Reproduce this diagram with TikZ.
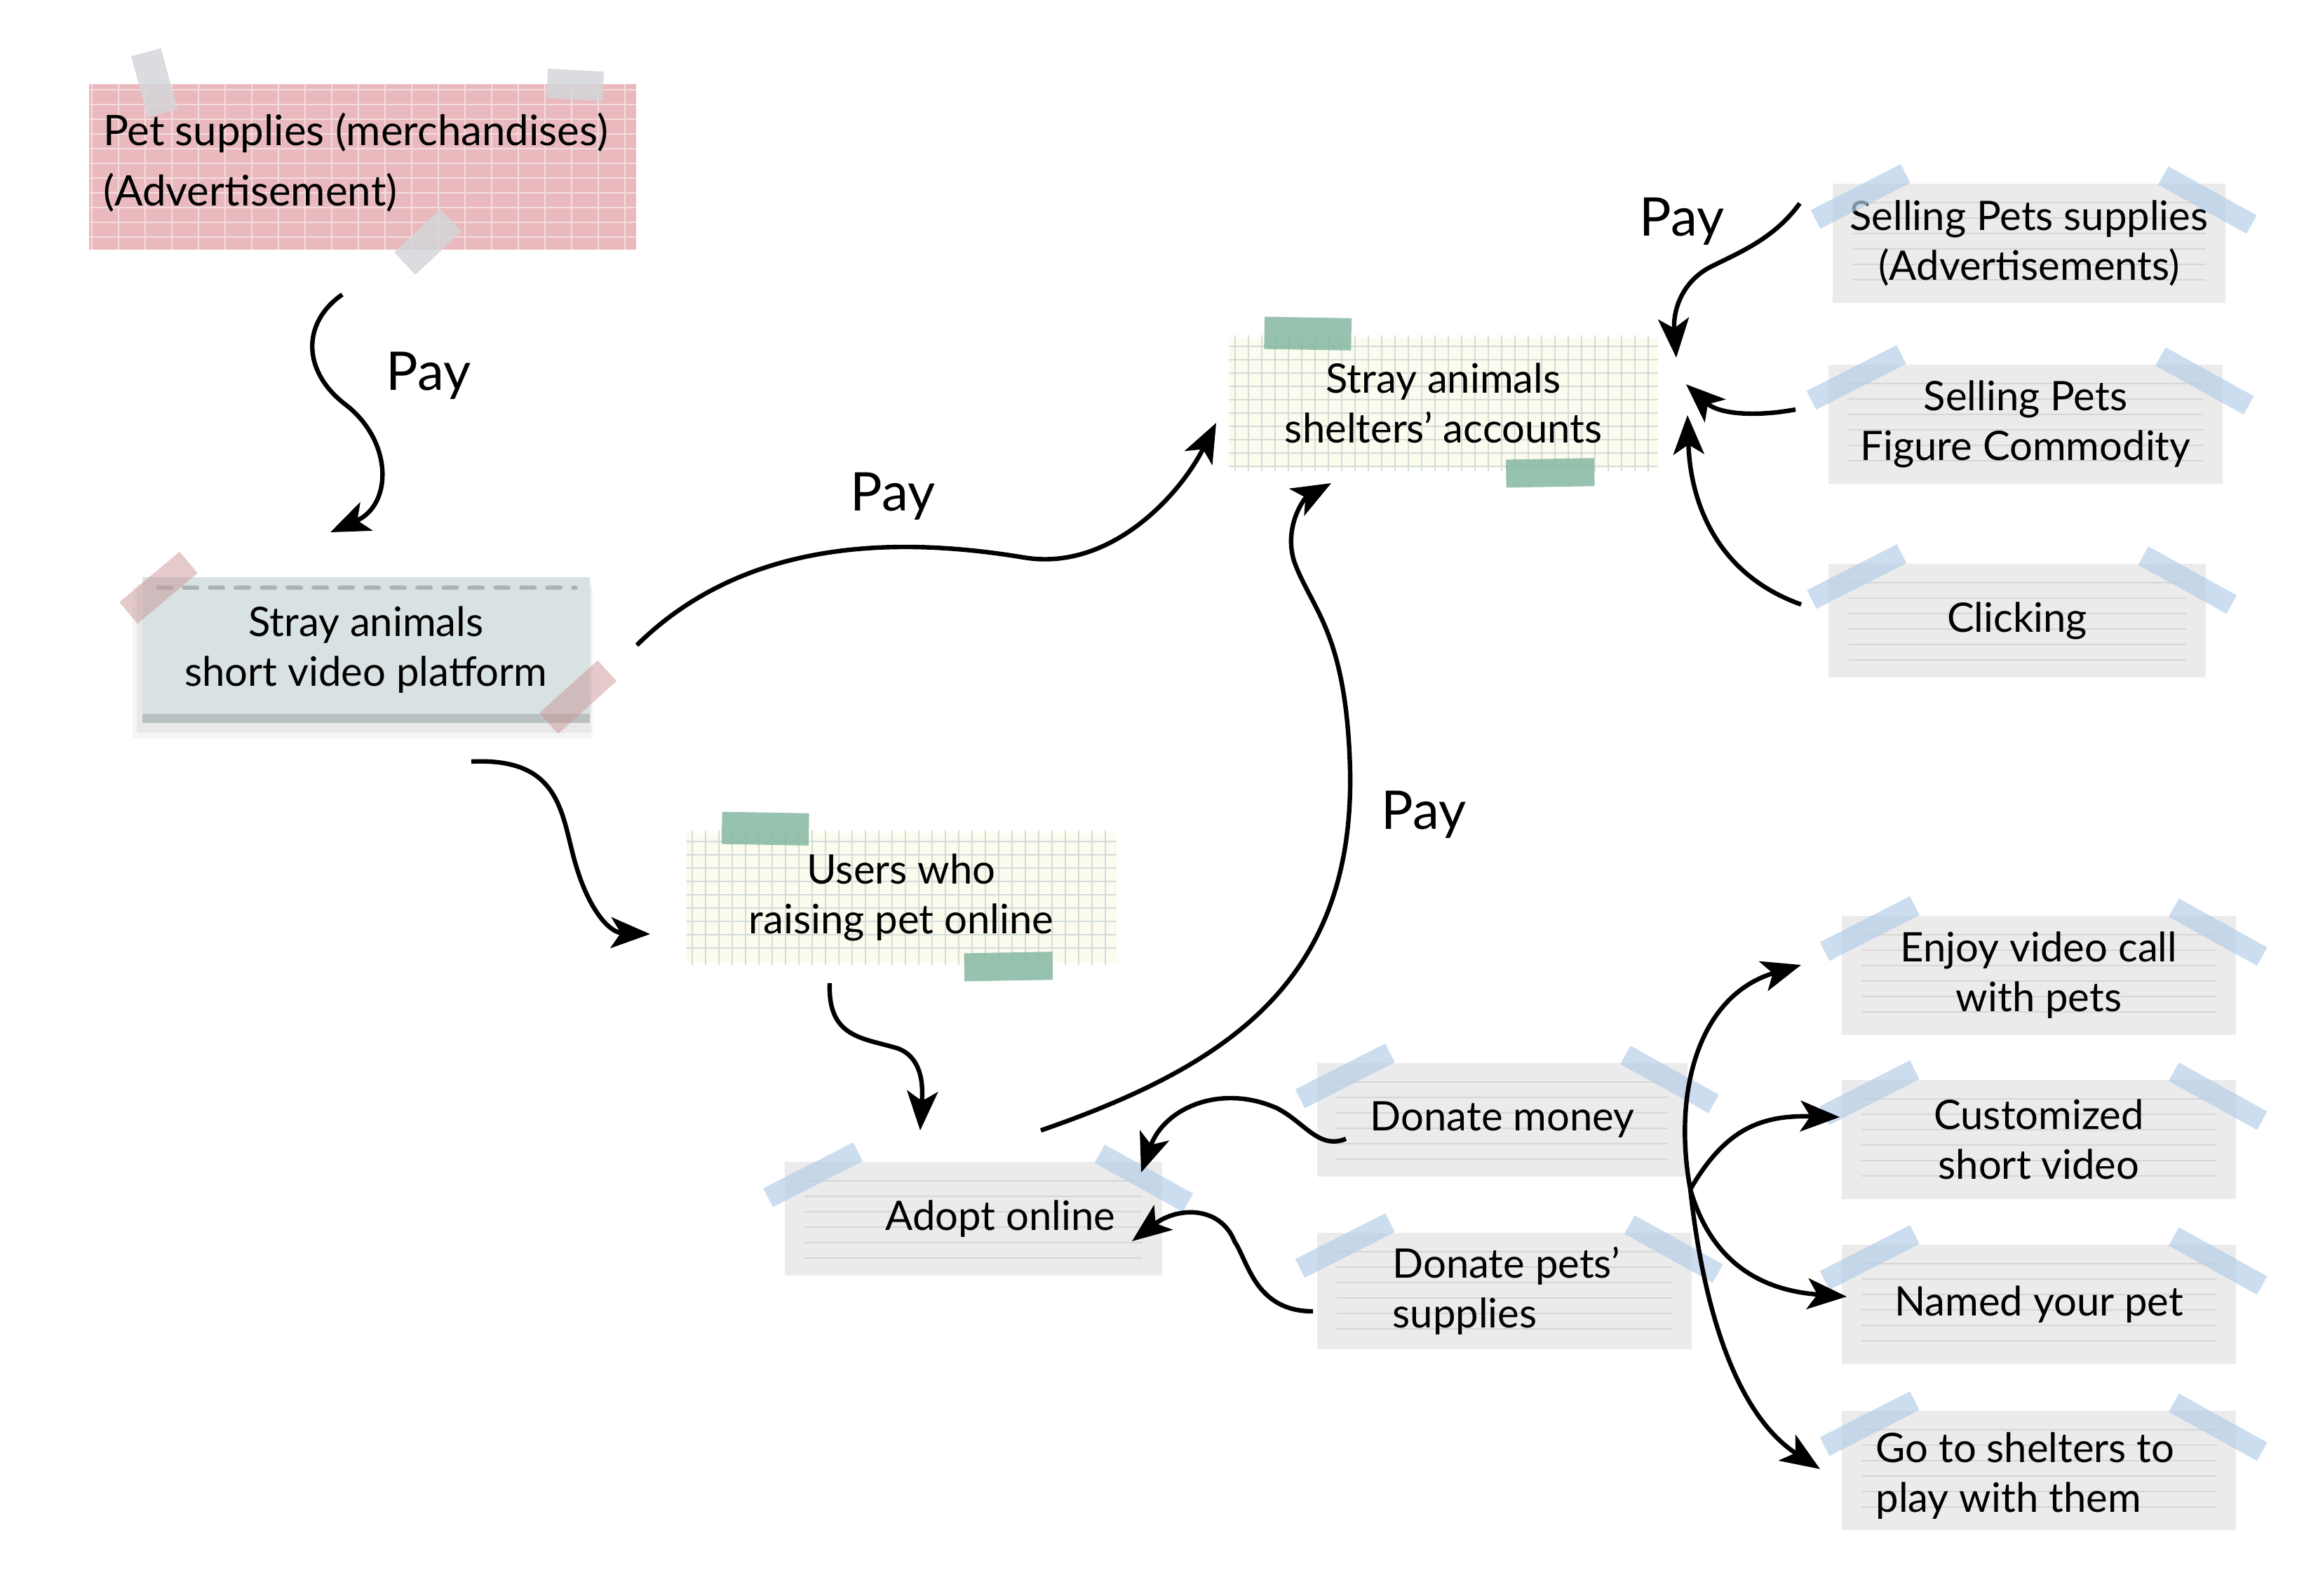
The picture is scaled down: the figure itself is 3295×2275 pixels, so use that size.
\documentclass[tikz,border=0pt]{standalone}
\usepackage{fontspec}
\setmainfont{Lato}
\usetikzlibrary{arrows.meta}
\pgfdeclarelayer{bg}
\pgfsetlayers{bg,main}
\definecolor{pinkfill}{HTML}{E9B9BD}
\definecolor{pinkgrid}{HTML}{F4DCDE}
\definecolor{greytape}{HTML}{D4D6D9}
\definecolor{platfill}{HTML}{D9E2E3}
\definecolor{platband}{HTML}{BBC0C2}
\definecolor{platdash}{HTML}{ADB2B4}
\definecolor{pinktape}{HTML}{C99596}
\definecolor{creamfill}{HTML}{FCFCEE}
\definecolor{creamgrid}{HTML}{D2DCD8}
\definecolor{greentape}{HTML}{8BBBA6}
\definecolor{linedfill}{HTML}{EBEBEB}
\definecolor{linedline}{HTML}{D6D6D6}
\definecolor{bluetape}{HTML}{B5CEE8}

\newcommand\linedeco[1]{%
  \begin{pgfonlayer}{bg}
    \fill[linedfill] (#1.north west) rectangle (#1.south east);
    \foreach \k in {0,...,5}
      \draw[linedline, line width=0.5pt] ([shift={(28,27+22*\k)}]#1.north west) -- ([shift={(-28,27+22*\k)}]#1.north east);
  \end{pgfonlayer}
  \begin{scope}[shift={([shift={(40,18)}]#1.north west)}, rotate=27]
    \fill[bluetape, opacity=.7] (-72,-15) rectangle (72,15);
  \end{scope}
  \begin{scope}[shift={([shift={(-26,23)}]#1.north east)}, rotate=-29]
    \fill[bluetape, opacity=.7] (-72,-15) rectangle (72,15);
  \end{scope}}

\newcommand\creamdeco[3]{%
  \begin{pgfonlayer}{bg}
    \fill[creamfill] (#1.north west) rectangle (#1.south east);
    \foreach \k in {0,...,#2}
      \draw[creamgrid, line width=0.5pt] ([shift={(9+19*\k,-4)}]#1.north west) -- ([shift={(9+19*\k,4)}]#1.south west);
    \foreach \k in {0,...,#3}
      \draw[creamgrid, line width=0.5pt] ([shift={(0,12+19*\k)}]#1.north west) -- ([shift={(0,12+19*\k)}]#1.north east);
  \end{pgfonlayer}
  \begin{scope}[shift={([shift={(113,-6)}]#1.north west)}, rotate=-1]
    \fill[greentape, opacity=.9] (-62,-23) rectangle (62,23);
  \end{scope}
  \begin{scope}[shift={([shift={(-154,6)}]#1.south east)}, rotate=1]
    \fill[greentape, opacity=.9] (-63,-20) rectangle (63,20);
  \end{scope}}

\begin{document}
\begin{tikzpicture}[x=0.25pt,y=-0.25pt,
  conn/.style={line width=1.6pt,-{Stealth[length=14pt,width=11pt,inset=3.5pt]}},
  paytext/.style={font=\fontsize{19}{22}\selectfont, inner sep=0pt},
  txt/.style={font=\fontsize{14.5}{17.75}\selectfont, align=center, inner sep=0pt},
  card/.style={txt, minimum width=140.25pt, minimum height=42pt},
  plainbox/.style={inner sep=0pt}]
\useasboundingbox (0,0) rectangle (3295,2275);

% ---------- Pet supplies ----------
\node[plainbox, minimum width=194.5pt, minimum height=58.75pt] (pet) at (517,238) {};
\node[font=\fontsize{15}{21.5}\selectfont, align=left, anchor=west, inner sep=0pt] (pet-t)
  at ([xshift=4.75pt, yshift=1.5pt]pet.west) {Pet supplies (merchandises)\\(Advertisement)};
\begin{pgfonlayer}{bg}
  \fill[pinkfill] (pet.north west) rectangle (pet.south east);
  \foreach \k in {0,...,20}
    \draw[pinkgrid, line width=0.6pt] ([shift={(4+38*\k,0)}]pet.north west) -- ([shift={(4+38*\k,0)}]pet.south west);
  \foreach \k in {0,...,10}
    \draw[pinkgrid, line width=0.6pt] ([shift={(0,8+21*\k)}]pet.north west) -- ([shift={(0,8+21*\k)}]pet.north east);
\end{pgfonlayer}
\begin{scope}[shift={(220,118)}, rotate=-75]
  \fill[greytape, opacity=.85] (-45,-22) rectangle (45,22);
\end{scope}
\begin{scope}[shift={(820,121)}, rotate=-3]
  \fill[greytape, opacity=.85] (-40,-21) rectangle (40,21);
\end{scope}
\begin{scope}[shift={(610,345)}, rotate=43]
  \fill[greytape, opacity=.85] (-45,-22) rectangle (45,22);
\end{scope}

% ---------- Platform ----------
\node[txt, minimum width=159pt, minimum height=51.5pt] (plat) at (522,927) {Stray animals\\short video platform};
\begin{pgfonlayer}{bg}
  \fill[black, opacity=.04] ([shift={(-14,14)}]plat.north west) rectangle ([shift={(4,22)}]plat.south east);
  \fill[black, opacity=.05] ([shift={(-8,10)}]plat.north west) rectangle ([shift={(2,14)}]plat.south east);
  \fill[platfill] (plat.north west) rectangle (plat.south east);
  \fill[platband] ([shift={(0,-13)}]plat.south west) rectangle (plat.south east);
  \draw[platdash, line width=1.5pt, dash pattern=on 4.75pt off 4.5pt, line cap=round]
    ([shift={(22,15)}]plat.north west) -- ([shift={(-20,15)}]plat.north east);
\end{pgfonlayer}
\begin{scope}[shift={(226,838)}, rotate=40]
  \fill[pinktape, opacity=.5] (-56,-20) rectangle (56,20);
\end{scope}
\begin{scope}[shift={(824,994)}, rotate=42]
  \fill[pinktape, opacity=.5] (-56,-20) rectangle (56,20);
\end{scope}

% ---------- Shelters / Users ----------
\node[txt, minimum width=152.75pt, minimum height=46.25pt] (shelt) at (2058,575) {Stray animals\\shelters' accounts};
\creamdeco{shelt}{31}{9}
\node[txt, minimum width=153pt, minimum height=45.75pt] (users) at (1285,1280) {Users who\\raising pet online};
\creamdeco{users}{31}{8}

% ---------- Lined cards ----------
\node[plainbox, minimum width=134pt, minimum height=40pt] (adopt) at (1388,1738) {};
\node[txt, anchor=east] (adopt-t) at ([xshift=-16.5pt]adopt.east) {Adopt online};
\linedeco{adopt}
\node[txt, minimum width=131.75pt, minimum height=40pt] (donm) at (2142,1597) {Donate money};
\linedeco{donm}
\node[plainbox, minimum width=133.25pt, minimum height=41pt] (donp) at (2145,1841) {};
\node[txt, align=left, anchor=west] (donp-t) at ([xshift=26.75pt]donp.west) {Donate pets'\\supplies};
\linedeco{donp}
\node[card, minimum width=139.75pt] (sps) at (2893,347) {Selling Pets supplies\\(Advertisements)};
\linedeco{sps}
\node[card] (spf) at (2888,605) {Selling Pets\\Figure Commodity};
\linedeco{spf}
\node[card, minimum width=134pt, minimum height=40pt] (click) at (2876,885) {Clicking};
\linedeco{click}
\node[card] (enjoy) at (2907,1391) {Enjoy video call\\with pets};
\linedeco{enjoy}
\node[card] (cust) at (2907,1625) {Customized\\short video};
\linedeco{cust}
\node[card] (named) at (2907,1860) {Named your pet};
\linedeco{named}
\node[plainbox, minimum width=140.25pt, minimum height=42pt] (goto) at (2907,2097) {};
\node[txt, align=left, anchor=west] (goto-t) at ([xshift=12pt, yshift=-2pt]goto.west) {Go to shelters to\\play with them};
\linedeco{goto}

% ---------- Pay labels ----------
\node[paytext] (pay1) at (611,536) {Pay};
\node[paytext] (pay2) at (1273,708) {Pay};
\node[paytext] (pay3) at (2398,316) {Pay};
\node[paytext] (pay4) at (2030,1162) {Pay};

% ---------- Connectors ----------
\coordinate (a1s) at (488,420);   \coordinate (a1e) at (471,759);
\coordinate (b1s) at (908,920);   \coordinate (b1e) at (1734,603);
\coordinate (c1s) at (672,1086);  \coordinate (c1e) at (927,1332);
\coordinate (d1s) at (1183,1402); \coordinate (d1e) at (1312,1612);
\coordinate (e1s) at (1484,1612); \coordinate (e1e) at (1898,689);
\coordinate (f1s) at (1919,1624); \coordinate (f1e) at (1627,1672);
\coordinate (g1s) at (1872,1870); \coordinate (g1e) at (1614,1770);
\coordinate (h1s) at (2566,290);  \coordinate (h1e) at (2390,510);
\coordinate (i1s) at (2560,584);  \coordinate (i1e) at (2404,548);
\coordinate (j1s) at (2568,862);  \coordinate (j1e) at (2406,592);
\coordinate (fan) at (2410,1696);
\coordinate (k1e) at (2568,1376); \coordinate (k2e) at (2623,1593);
\coordinate (k3e) at (2633,1849); \coordinate (k4e) at (2595,2095);

\draw[conn] (a1s) .. controls (430,460) and (430,530) .. (494,578) .. controls (560,630) and (560,720) .. (a1e);
\draw[conn] (b1s) .. controls (1050,780) and (1250,760) .. (1460,795) .. controls (1580,815) and (1680,710) .. (b1e);
\draw[conn] (c1s) .. controls (800,1080) and (800,1160) .. (820,1230) .. controls (840,1300) and (870,1330) .. (c1e);
\draw[conn] (d1s) .. controls (1180,1480) and (1230,1480) .. (1280,1495) .. controls (1320,1510) and (1315,1560) .. (d1e);
\draw[conn] (e1s) .. controls (1750,1520) and (1930,1400) .. (1925,1100) .. controls (1920,900) and (1870,870) .. (1845,800) .. controls (1830,750) and (1860,710) .. (e1e);
\draw[conn] (f1s) .. controls (1880,1640) and (1860,1600) .. (1820,1580) .. controls (1740,1545) and (1660,1580) .. (f1e);
\draw[conn] (g1s) .. controls (1790,1870) and (1780,1800) .. (1760,1770) .. controls (1740,1720) and (1680,1720) .. (g1e);
\draw[conn] (h1s) .. controls (2530,340) and (2480,360) .. (2440,380) .. controls (2400,400) and (2385,440) .. (h1e);
\draw[conn] (i1s) .. controls (2500,595) and (2450,590) .. (i1e);
\draw[conn] (j1s) .. controls (2450,820) and (2410,720) .. (j1e);
\draw[conn] (fan) .. controls (2385,1560) and (2420,1420) .. (k1e);
\draw[conn] (fan) .. controls (2460,1610) and (2510,1590) .. (k2e);
\draw[conn] (fan) .. controls (2440,1800) and (2510,1840) .. (k3e);
\draw[conn] (fan) .. controls (2430,1880) and (2480,2020) .. (k4e);
\end{tikzpicture}
\end{document}
